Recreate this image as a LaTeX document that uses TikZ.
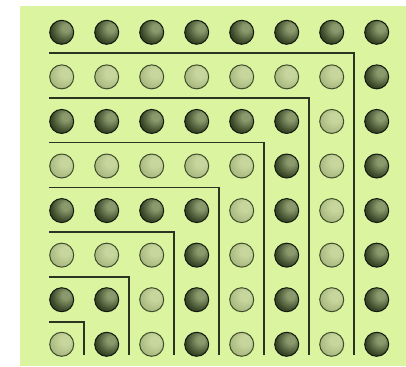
\documentclass[tikz,border=0pt]{standalone}
\definecolor{bg}{HTML}{DAF4A0}
\definecolor{lineC}{HTML}{2A3420}
\definecolor{dkHi}{HTML}{8A9A6C}
\definecolor{dkMid}{HTML}{3C4A2A}
\definecolor{dkEdge}{HTML}{12180C}
\definecolor{ltHi}{HTML}{C6D69C}
\definecolor{ltMid}{HTML}{A2B27A}
\definecolor{ltEdge}{HTML}{7E8E58}
\definecolor{ltLine}{HTML}{3E4A2A}
\pgfdeclareradialshading{darkballsh}{\pgfpoint{9bp}{10bp}}{color(0bp)=(dkHi); color(8bp)=(dkHi); color(28bp)=(dkMid); color(48bp)=(dkEdge); color(70bp)=(dkEdge); color(100bp)=(dkEdge)}
\pgfdeclareradialshading{lightballsh}{\pgfpoint{8bp}{9bp}}{color(0bp)=(ltHi); color(10bp)=(ltHi); color(35bp)=(ltMid); color(60bp)=(ltEdge); color(100bp)=(ltEdge)}
\tikzset{
  ballbase/.style={circle, inner sep=0pt, minimum size=24pt},
  darkball/.style={ballbase, shading=darkballsh, draw=dkEdge, line width=1pt},
  lightball/.style={ballbase, shading=lightballsh, draw=ltLine, line width=1pt},
  gnomon/.style={draw=lineC, line width=1.5pt}
}
\begin{document}
\begin{tikzpicture}[x=1pt,y=-1pt]
\useasboundingbox (0,0) rectangle (406,366);
\fill[bg] (20,6) rectangle (406,366);
\foreach \r in {0,...,7}{
  \foreach \c in {0,...,7}{
    \pgfmathtruncatemacro{\g}{max(7-\r,\c)}
    \pgfmathtruncatemacro{\odd}{mod(\g,2)}
    \ifnum\odd=1
      \node[darkball] (b-\r-\c) at ({61.7+45*\c},{32.3+44.57*\r}) {};
    \else
      \node[lightball] (b-\r-\c) at ({61.7+45*\c},{32.3+44.57*\r}) {};
    \fi
  }
}
\foreach \i in {1,...,7}{
  \draw[gnomon] (49.3,{53+44.8*(\i-1)}) -- ({354-45*(\i-1)},{53+44.8*(\i-1)}) -- ({354-45*(\i-1)},355);
}
\end{tikzpicture}
\end{document}
